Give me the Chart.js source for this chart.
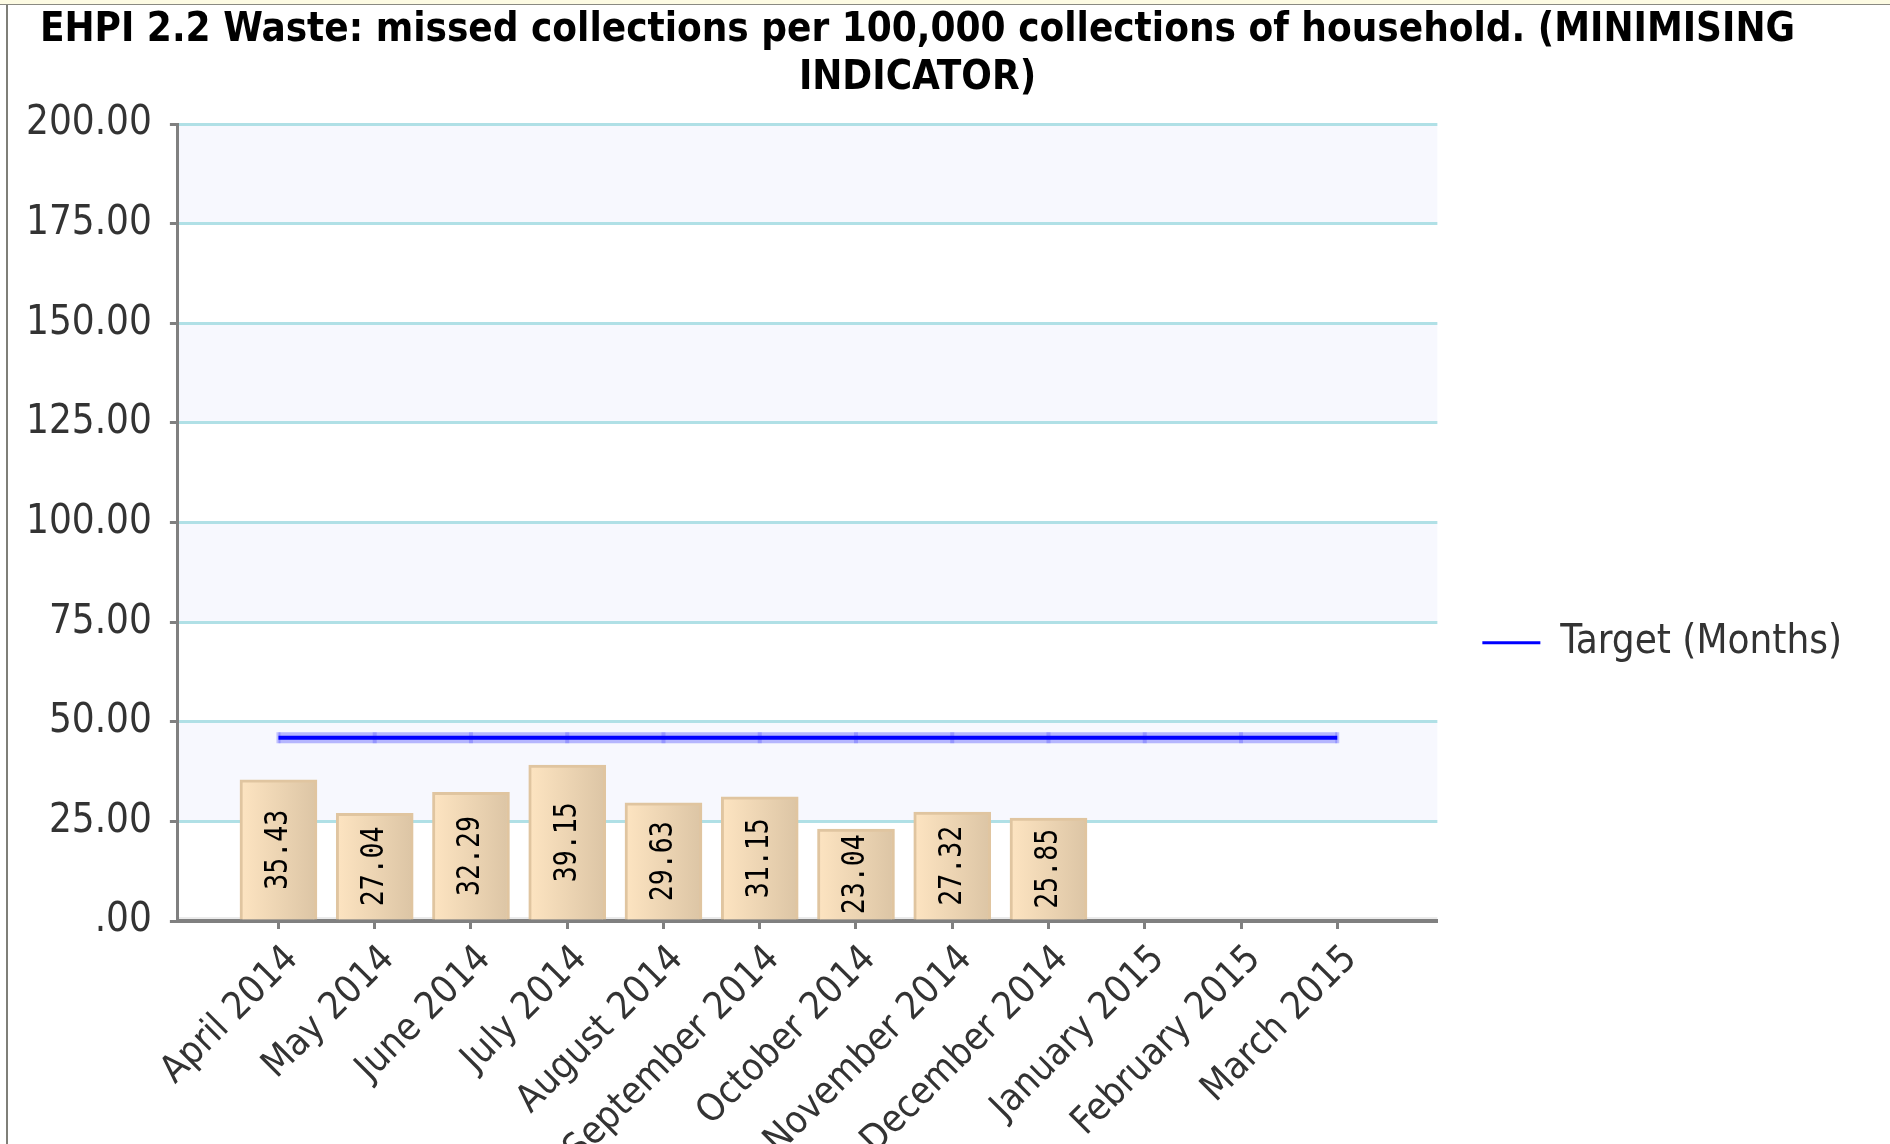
<!DOCTYPE html>
<html>
<head>
<meta charset="utf-8">
<script src="https://cdn.jsdelivr.net/npm/chart.js@4"></script>
<style>
  body { margin: 0; background: #fff; }
  #wrap { position: relative; width: 1890px; height: 1144px; overflow: hidden; }
  #topbar { position: absolute; left: 0; top: 0; width: 1890px; height: 4px; background: #fdfbe3; border-bottom: 1px solid #8a8a82; }
  #leftbar { position: absolute; left: 6px; top: 5px; width: 2px; height: 1139px; background: #7f7f78; }
  #chart { position: absolute; left: 0; top: 0; }
</style>
</head>
<body>
<div id="wrap">
  <div id="topbar"></div>
  <div id="leftbar"></div>
  <canvas id="chart" width="1890" height="1144"></canvas>
</div>
<script>
var months = ['April 2014', 'May 2014', 'June 2014', 'July 2014', 'August 2014', 'September 2014',
  'October 2014', 'November 2014', 'December 2014', 'January 2015', 'February 2015', 'March 2015'];
var missed = [35.43, 27.04, 32.29, 39.15, 29.63, 31.15, 23.04, 27.32, 25.85, null, null, null];
var target = [46, 46, 46, 46, 46, 46, 46, 46, 46, 46, 46, 46];
var yTickLabels = ['.00', '25.00', '50.00', '75.00', '100.00', '125.00', '150.00', '175.00', '200.00'];

var FONT = '"DejaVu Sans Condensed", "DejaVu Sans", sans-serif';

// alternating bands behind the plot, like the old report charts
var bands = {
  id: 'bands',
  beforeDraw: function(chart) {
    var ctx = chart.ctx, a = chart.chartArea, y = chart.scales.y;
    ctx.save();
    for (var v = 25; v < 200; v += 50) {
      var top = y.getPixelForValue(v + 25), bot = y.getPixelForValue(v);
      ctx.fillStyle = '#f7f8fe';
      ctx.fillRect(a.left, top, a.right - a.left, bot - top);
    }
    ctx.fillStyle = '#ebebeb';
    ctx.fillRect(a.left, y.getPixelForValue(0) - 4, a.right - a.left, 4);
    ctx.restore();
  }
};

// value written sideways inside each bar
var barLabels = {
  id: 'barLabels',
  afterDatasetsDraw: function(chart) {
    var ctx = chart.ctx;
    var meta = chart.getDatasetMeta(2);
    ctx.save();
    ctx.fillStyle = '#000';
    ctx.font = '32px "DejaVu Sans Mono", monospace';
    ctx.textAlign = 'center';
    ctx.textBaseline = 'middle';
    meta.data.forEach(function(bar, i) {
      if (missed[i] == null) return;
      ctx.save();
      ctx.translate(bar.x, (bar.y + bar.base) / 2);
      ctx.rotate(-Math.PI / 2);
      ctx.scale(0.83, 1);
      ctx.fillText(missed[i].toFixed(2), 0, 0);
      ctx.restore();
    });
    ctx.restore();
  }
};

function barFill(c) {
  var chart = c.chart;
  if (!chart.scales.x || !c.parsed) return '#f0d8b8';
  var x = chart.scales.x.getPixelForValue(c.parsed.x);
  if (!isFinite(x)) return '#f0d8b8';
  var g = chart.ctx.createLinearGradient(x - 38, 0, x + 38, 0);
  g.addColorStop(0, '#fde4c1');
  g.addColorStop(1, '#dcc5a5');
  return g;
}

var ctx = document.getElementById('chart');
new Chart(ctx, {
  type: 'bar',
  data: {
    datasets: [{
      type: 'line',
      label: 'Target (Months)',
      data: target.map(function(v, i) { return {x: i, y: v}; }),
      borderColor: '#0000ff',
      backgroundColor: '#0000ff',
      borderWidth: 4,
      pointRadius: 0,
      order: 0
    }, {
      type: 'line',
      label: 'halo',
      data: target.map(function(v, i) { return {x: i, y: v}; }),
      borderColor: 'rgba(90,90,255,0.42)',
      borderWidth: 11,
      borderCapStyle: 'butt',
      pointStyle: 'line',
      rotation: 90,
      pointRadius: 5.5,
      pointBorderWidth: 4,
      pointBorderColor: 'rgba(90,90,255,0.35)',
      order: 1
    }, {
      label: 'Missed',
      data: missed.map(function(v, i) { return {x: i, y: v}; }),
      backgroundColor: barFill,
      borderColor: '#e0c5a0',
      borderWidth: 3,
      barThickness: 77,
      order: 2
    }]
  },
  options: {
    responsive: false,
    animation: false,
    layout: { padding: { left: 8, right: 38, top: 0, bottom: 0 } },
    plugins: {
      title: {
        display: true,
        // trailing spaces nudge the centred title left, as in the original
        text: ['EHPI 2.2 Waste: missed collections per 100,000 collections of household. (MINIMISING  ',
               'INDICATOR)  '],
        color: '#000',
        font: { family: FONT, size: 40, weight: 'bold', lineHeight: 1.2 },
        padding: { top: 7, bottom: 21 }
      },
      legend: {
        position: 'right',
        align: 'center',
        title: { display: true, text: '', padding: { top: 127, bottom: 0 } },
        labels: {
          color: '#333',
          font: { family: FONT, size: 40 },
          boxWidth: 58,
          padding: 45,
          usePointStyle: true,
          pointStyleWidth: 58,
          filter: function(item) { return item.text === 'Target (Months)'; },
          generateLabels: function(chart) {
            return Chart.defaults.plugins.legend.labels.generateLabels(chart).map(function(it) {
              it.pointStyle = 'line';
              it.lineWidth = 3;
              it.strokeStyle = '#0000ff';
              return it;
            });
          }
        }
      },
      tooltip: { enabled: false }
    },
    scales: {
      x: {
        type: 'linear',
        offset: false,
        min: -1.045,
        max: 12.04,
        afterBuildTicks: function(s) {
          s.ticks = months.map(function(m, i) { return {value: i}; });
        },
        afterFit: function(s) { s.height = 223; },
        ticks: {
          color: '#333',
          font: { family: FONT, size: 38 },
          minRotation: 45,
          maxRotation: 45,
          padding: 8,
          labelOffset: 14,
          callback: function(v) { return months[v]; }
        },
        grid: { offset: false, drawOnChartArea: false, tickLength: 8, tickColor: '#808080', tickWidth: 3 },
        border: { color: '#808080', width: 4 }
      },
      y: {
        min: 0,
        max: 200,
        ticks: {
          stepSize: 25,
          color: '#333',
          font: { family: FONT, size: 40 },
          padding: 18,
          callback: function(v) { return yTickLabels[v / 25]; }
        },
        grid: {
          color: function(c) { return c.tick && c.tick.value === 0 ? 'rgba(0,0,0,0)' : '#b0e0e6'; },
          lineWidth: 3,
          tickLength: 8,
          tickColor: '#808080',
          tickWidth: 3
        },
        border: { color: '#808080', width: 3 }
      }
    }
  },
  plugins: [bands, barLabels]
});
</script>
</body>
</html>
